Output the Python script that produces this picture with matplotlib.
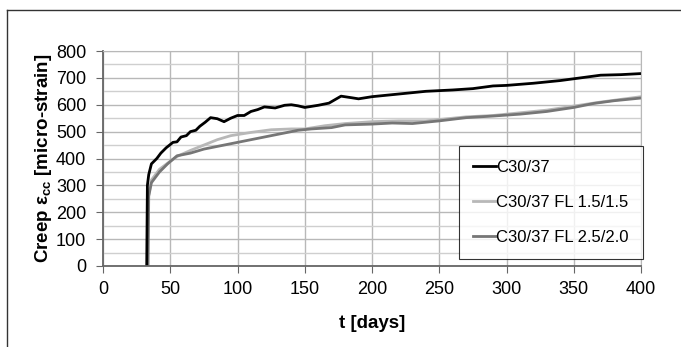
import numpy as np
import matplotlib.pyplot as plt
from matplotlib.lines import Line2D

plt.rcParams["font.family"] = ["Liberation Sans", "DejaVu Sans"]
plt.rcParams["mathtext.fontset"] = "custom"
plt.rcParams["mathtext.bf"] = "Liberation Sans:bold"
plt.rcParams["mathtext.it"] = "Liberation Sans:italic:bold"
plt.rcParams["mathtext.rm"] = "Liberation Sans:bold"

# C30/37 reference concrete
t_ref = [32.5, 33, 34, 36, 40, 43, 47, 52, 55, 58, 62, 65, 69, 72, 76, 80, 85, 90, 95,
         100, 105, 110, 115, 120, 128, 135, 140, 145, 150, 160, 168, 177, 185, 190,
         200, 220, 240, 260, 275, 290, 300, 320, 340, 355, 370, 385, 400]
e_ref = [0, 300, 340, 380, 400, 420, 440, 460, 462, 480, 485, 500, 505, 520, 535, 552,
         548, 537, 550, 560, 560, 575, 582, 592, 588, 598, 600, 596, 590, 598, 606, 632,
         626, 622, 630, 640, 650, 655, 660, 670, 672, 680, 690, 700, 710, 712, 716]

# C30/37 FL 1.5/1.5
t_fl15 = [33, 33.5, 36, 42, 50, 56, 65, 75, 85, 95, 110, 125, 140, 150, 165, 180,
          200, 220, 240, 250, 270, 290, 310, 330, 350, 370, 385, 400]
e_fl15 = [0, 250, 320, 360, 390, 410, 430, 450, 470, 485, 497, 507, 510, 510, 522,
          530, 537, 540, 540, 545, 555, 560, 570, 580, 595, 610, 620, 630]

# C30/37 FL 2.5/2.0
t_fl25 = [33.5, 34, 36, 42, 48, 55, 65, 75, 90, 105, 120, 135, 145, 155, 170, 180,
          200, 215, 230, 250, 270, 290, 310, 330, 350, 365, 380, 400]
e_fl25 = [0, 260, 310, 350, 380, 410, 420, 435, 450, 465, 480, 495, 505, 510, 515,
          525, 528, 532, 530, 540, 552, 558, 565, 575, 590, 605, 615, 625]

labels = ["C30/37", "C30/37 FL 1.5/1.5", "C30/37 FL 2.5/2.0"]
colors = ["#000000", "#b8b8b8", "#767676"]

fig = plt.figure(figsize=[6.81, 3.47], dpi=100)
# outer frame (top and left edge)
fig.add_artist(Line2D([6.5 / 681, 1], [1 - 9.5 / 347] * 2, color="#333333", lw=1))
fig.add_artist(Line2D([6.5 / 681] * 2, [0, 1 - 9.5 / 347], color="#333333", lw=1))

ax = fig.add_axes([103 / 681, 1 - 266 / 347, 538 / 681, 215 / 347])
ax.plot(t_fl15, e_fl15, color=colors[1], lw=2, label=labels[1])
ax.plot(t_fl25, e_fl25, color=colors[2], lw=2, label=labels[2])
ax.plot(t_ref, e_ref, color=colors[0], lw=2, label=labels[0])

ax.set_xlim(0, 400)
ax.set_ylim(0, 800)
ax.set_xticks(np.arange(0, 401, 50))
ax.set_yticks(np.arange(0, 801, 100))
ax.set_yticks(np.arange(50, 800, 100), minor=True)
ax.grid(True, which="major", color="#b8b8b8", lw=1)
ax.grid(True, which="minor", axis="y", color="#cfcfcf", lw=1)
ax.tick_params(which="minor", length=0)
ax.tick_params(which="major", direction="out", length=5, color="#666666",
               labelsize=13)
ax.tick_params(axis="x", pad=6)
ax.tick_params(axis="y", pad=7)
for s in ["left", "bottom"]:
    ax.spines[s].set_color("#666666")
    ax.spines[s].set_linewidth(1.3)
for s in ["right", "top"]:
    ax.spines[s].set_color("#b8b8b8")
ax.set_axisbelow(True)

ax.set_xlabel("t [days]", fontsize=13.5, fontweight="bold")
ax.set_ylabel(r"Creep $\mathbf{\varepsilon_{cc}}$ [micro-strain]", fontsize=13.5,
              fontweight="bold")
ax.xaxis.set_label_coords(0.5, -(315 - 266) / 215)
ax.yaxis.set_label_coords(-(103 - 54) / 538, 0.5)

handles, labs = ax.get_legend_handles_labels()
order = [2, 0, 1]
leg = ax.legend([handles[i] for i in order], [labs[i] for i in order],
                loc="lower left", bbox_to_anchor=(0.6617, 0.0326, 0.342, 0.5),
                mode="expand", fontsize=12, frameon=True, fancybox=False,
                handlelength=1.4, handletextpad=0.0, labelspacing=1.2,
                borderpad=0.85, borderaxespad=0)
leg.get_frame().set_edgecolor("#000000")
leg.get_frame().set_linewidth(0.8)

plt.savefig("out.png", dpi=100)
plt.close()
